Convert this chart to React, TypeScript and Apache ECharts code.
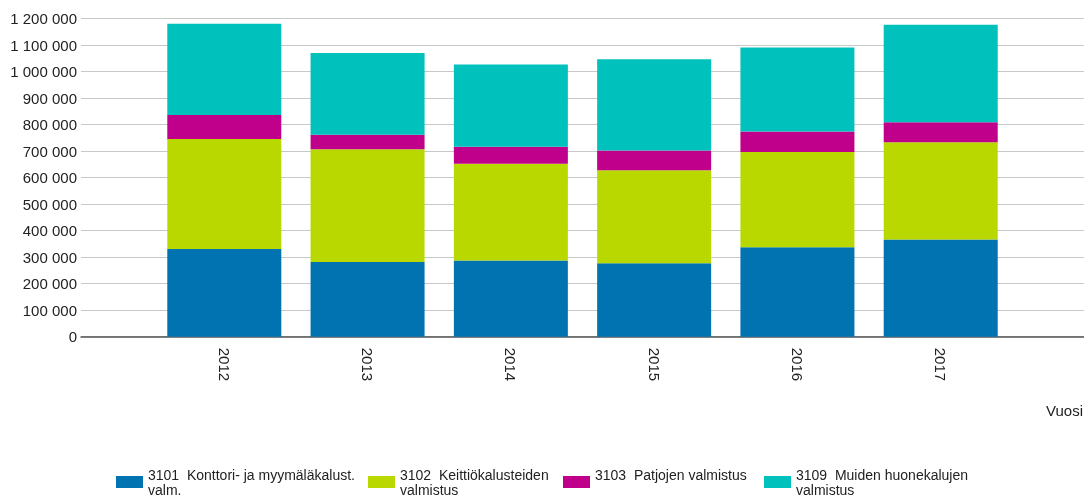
import React, { useEffect, useRef } from "react";
import * as echarts from "echarts";

const years = ["2012", "2013", "2014", "2015", "2016", "2017"];
const seriesNames = [
  "3101  Konttori- ja myymäläkalust. valm.",
  "3102  Keittiökalusteiden valmistus",
  "3103  Patjojen valmistus",
  "3109  Muiden huonekalujen valmistus",
];
const legendLabels = [
  "3101  Konttori- ja myymäläkalust.\nvalm.",
  "3102  Keittiökalusteiden\nvalmistus",
  "3103  Patjojen valmistus\n ",
  "3109  Muiden huonekalujen\nvalmistus",
];
const konttori = [331000, 282000, 288000, 277000, 338000, 367000];
const keittio = [415000, 425000, 365000, 351000, 359000, 367000];
const patjat = [91000, 55000, 64000, 75000, 77000, 75000];
const muut = [344000, 309000, 310000, 344000, 317000, 368000];
const colors = ["#0073b0", "#b9d800", "#c0008a", "#00c1bb"];
const yTicks = { min: 0, max: 1200000, interval: 100000 };
const xAxisTitle = "Vuosi";

const FONT = "'Liberation Sans', Arial, sans-serif";

export default function App() {
  const ref = useRef<HTMLDivElement>(null);
  useEffect(() => {
    if (!ref.current) return;
    const chart = echarts.init(ref.current, undefined, { renderer: "svg" });
    const cats = ["", ...years, ""];
    const pad = (arr: number[]) => [null, ...arr, null];
    const allData = [konttori, keittio, patjat, muut];
    const legendLefts = [116, 368, 563, 764];
    chart.setOption({
      animation: false,
      textStyle: { fontFamily: FONT },
      grid: {
        left: 81,
        right: 0,
        top: 18.7,
        bottom: 161.3,
        containLabel: false,
        outerBoundsMode: "none",
      },
      xAxis: {
        type: "category",
        data: cats,
        boundaryGap: false,
        axisLine: { show: true, lineStyle: { color: "#555", width: 1.5 } },
        axisTick: { show: false },
        axisLabel: {
          interval: 0,
          rotate: -90,
          margin: 11,
          fontSize: 15,
          color: "#222",
          fontFamily: FONT,
        },
        splitLine: { show: false },
      },
      yAxis: {
        type: "value",
        min: yTicks.min,
        max: yTicks.max,
        interval: yTicks.interval,
        axisLine: { show: false },
        axisTick: { show: false },
        splitLine: { lineStyle: { color: "#c8c8c8", width: 1 } },
        axisLabel: {
          margin: 4,
          fontSize: 15,
          color: "#222",
          fontFamily: FONT,
          formatter: (v: number) =>
            String(v).replace(/\B(?=(\d{3})+(?!\d))/g, " "),
        },
      },
      legend: seriesNames.map((name, i) => ({
        data: [name],
        left: legendLefts[i],
        top: 467,
        padding: 0,
        icon: "rect",
        itemWidth: 27,
        itemHeight: 12,
        selectedMode: false,
        formatter: () => legendLabels[i],
        textStyle: {
          fontSize: 14,
          lineHeight: 15,
          color: "#222",
          fontFamily: FONT,
        },
      })),
      graphic: [
        {
          type: "text",
          right: 1,
          top: 403,
          style: {
            text: xAxisTitle,
            fontSize: 15,
            fill: "#222",
            fontFamily: FONT,
          },
        },
      ],
      series: seriesNames.map((name, i) => ({
        name,
        type: "bar",
        stack: "total",
        barWidth: 114,
        itemStyle: { color: colors[i] },
        data: pad(allData[i]),
      })),
    });
    return () => chart.dispose();
  }, []);
  return (
    <div
      ref={ref}
      style={{ position: "fixed", left: 0, top: 0, width: 1084, height: 498 }}
    />
  );
}
